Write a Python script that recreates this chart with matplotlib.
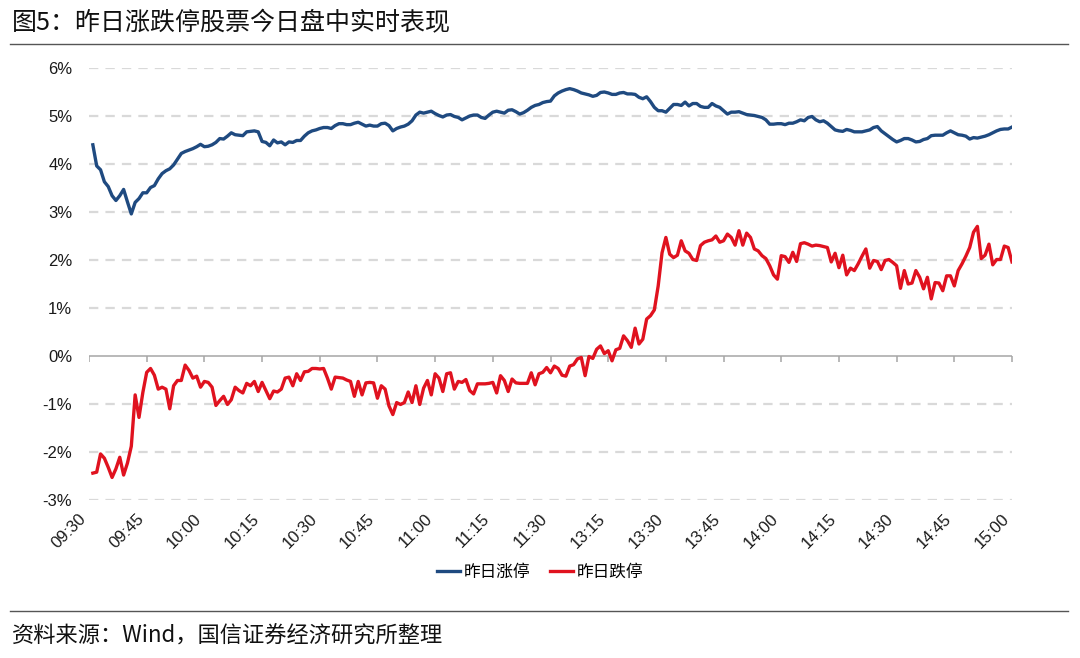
import numpy as np
import matplotlib
matplotlib.use("Agg")
import matplotlib.pyplot as plt
from matplotlib.lines import Line2D

plt.rcParams["font.family"] = ["Liberation Sans", "Noto Sans CJK SC", "DejaVu Sans"]

TITLE = "图5：昨日涨跌停股票今日盘中实时表现"
SOURCE = "资料来源：Wind，国信证券经济研究所整理"
SERIES_NAMES = ["昨日涨停", "昨日跌停"]

# trading-minute index: 0 = 09:30, 120 = 11:30/13:00, 240 = 15:00
tick_labels = ["09:30", "09:45", "10:00", "10:15", "10:30", "10:45", "11:00", "11:15",
               "11:30", "13:15", "13:30", "13:45", "14:00", "14:15", "14:30", "14:45", "15:00"]
y_ticks = [6, 5, 4, 3, 2, 1, 0, -1, -2, -3]

# 昨日涨停 (%), one value per trading minute 09:31 .. 15:00
limit_up = [
    4.40, 3.96, 3.88, 3.63, 3.53, 3.34, 3.24, 3.34, 3.47, 3.21,
    2.96, 3.20, 3.28, 3.40, 3.40, 3.51, 3.55, 3.69, 3.80, 3.86,
    3.90, 3.98, 4.10, 4.22, 4.26, 4.29, 4.32, 4.36, 4.41, 4.36,
    4.37, 4.40, 4.45, 4.53, 4.52, 4.58, 4.65, 4.61, 4.60, 4.59,
    4.67, 4.68, 4.69, 4.67, 4.47, 4.45, 4.38, 4.50, 4.44, 4.46,
    4.40, 4.46, 4.45, 4.49, 4.49, 4.58, 4.65, 4.69, 4.71, 4.74,
    4.76, 4.76, 4.74, 4.80, 4.84, 4.84, 4.82, 4.82, 4.85, 4.87,
    4.83, 4.79, 4.81, 4.79, 4.79, 4.84, 4.85, 4.80, 4.69, 4.74,
    4.77, 4.79, 4.83, 4.90, 5.02, 5.08, 5.06, 5.08, 5.10, 5.05,
    5.01, 4.98, 5.02, 5.03, 4.99, 4.97, 4.92, 4.96, 5.00, 5.02,
    5.02, 4.97, 4.95, 5.02, 5.08, 5.10, 5.08, 5.06, 5.12, 5.13,
    5.09, 5.04, 5.07, 5.12, 5.18, 5.22, 5.24, 5.28, 5.30, 5.31,
    5.42, 5.48, 5.52, 5.55, 5.57, 5.55, 5.52, 5.48, 5.46, 5.44,
    5.41, 5.43, 5.49, 5.50, 5.48, 5.45, 5.45, 5.48, 5.49, 5.46,
    5.46, 5.45, 5.39, 5.36, 5.40, 5.30, 5.18, 5.11, 5.11, 5.08,
    5.16, 5.24, 5.24, 5.22, 5.29, 5.21, 5.26, 5.26, 5.20, 5.18,
    5.18, 5.26, 5.21, 5.18, 5.11, 5.04, 5.08, 5.08, 5.09, 5.06,
    5.03, 5.02, 5.01, 4.99, 4.97, 4.92, 4.83, 4.83, 4.84, 4.84,
    4.82, 4.85, 4.85, 4.88, 4.92, 4.90, 4.97, 4.99, 4.92, 4.88,
    4.90, 4.85, 4.78, 4.71, 4.69, 4.68, 4.72, 4.70, 4.67, 4.67,
    4.67, 4.69, 4.71, 4.76, 4.78, 4.69, 4.63, 4.57, 4.51, 4.46,
    4.49, 4.53, 4.53, 4.50, 4.46, 4.47, 4.51, 4.53, 4.59, 4.60,
    4.60, 4.60, 4.65, 4.69, 4.65, 4.61, 4.60, 4.58, 4.52, 4.55,
    4.54, 4.56, 4.58, 4.61, 4.65, 4.69, 4.72, 4.73, 4.73, 4.77,
]

# 昨日跌停 (%), one value per trading minute 09:31 .. 15:00
limit_down = [
    -2.44, -2.42, -2.04, -2.13, -2.32, -2.53, -2.35, -2.11, -2.48, -2.23,
    -1.88, -0.81, -1.28, -0.76, -0.34, -0.26, -0.40, -0.69, -0.65, -0.69,
    -1.10, -0.62, -0.51, -0.51, -0.19, -0.30, -0.46, -0.42, -0.65, -0.53,
    -0.55, -0.65, -1.03, -0.93, -0.84, -1.01, -0.91, -0.65, -0.72, -0.77,
    -0.57, -0.62, -0.53, -0.74, -0.55, -0.72, -0.89, -0.73, -0.75, -0.69,
    -0.46, -0.44, -0.62, -0.37, -0.51, -0.33, -0.32, -0.26, -0.26, -0.27,
    -0.26, -0.46, -0.69, -0.44, -0.45, -0.46, -0.50, -0.53, -0.84, -0.53,
    -0.81, -0.56, -0.55, -0.56, -0.88, -0.62, -0.69, -1.04, -1.22, -0.97,
    -1.01, -0.97, -0.75, -0.97, -0.62, -1.01, -0.67, -0.51, -0.81, -0.37,
    -0.46, -0.74, -0.37, -0.35, -0.69, -0.53, -0.55, -0.49, -0.72, -0.79,
    -0.58, -0.58, -0.58, -0.57, -0.55, -0.77, -0.41, -0.51, -0.74, -0.48,
    -0.56, -0.57, -0.57, -0.57, -0.35, -0.60, -0.37, -0.34, -0.24, -0.35,
    -0.21, -0.26, -0.40, -0.42, -0.21, -0.18, -0.06, -0.03, -0.41, -0.01,
    -0.05, 0.14, 0.21, 0.05, 0.11, -0.10, 0.13, 0.16, 0.42, 0.32,
    0.18, 0.58, 0.25, 0.35, 0.77, 0.84, 0.96, 1.46, 2.15, 2.47,
    2.12, 2.05, 2.10, 2.40, 2.19, 2.14, 2.01, 1.99, 2.30, 2.37,
    2.40, 2.42, 2.50, 2.37, 2.40, 2.54, 2.47, 2.31, 2.61, 2.31,
    2.56, 2.47, 2.23, 2.19, 2.09, 2.03, 1.88, 1.69, 1.60, 2.09,
    2.07, 1.95, 2.16, 1.97, 2.34, 2.36, 2.33, 2.29, 2.31, 2.30,
    2.28, 2.26, 1.96, 2.14, 1.84, 2.10, 1.69, 1.83, 1.78, 1.92,
    2.08, 2.23, 1.83, 1.99, 1.97, 1.80, 1.99, 2.01, 1.95, 1.88,
    1.41, 1.78, 1.50, 1.52, 1.78, 1.64, 1.40, 1.64, 1.19, 1.53,
    1.52, 1.36, 1.67, 1.67, 1.46, 1.78, 1.92, 2.08, 2.26, 2.58,
    2.70, 2.03, 2.10, 2.33, 1.90, 2.01, 2.01, 2.29, 2.26, 1.96,
]

BLUE = "#1F4A80"
RED = "#E0121F"
GRID = "#D9D9D9"
CJK = ["Noto Sans CJK SC", "DejaVu Sans"]

minutes = np.arange(1, len(limit_up) + 1)
tick_pos = np.arange(len(tick_labels)) * 15

fig = plt.figure(figsize=(10.8, 6.58), dpi=100)
ax = fig.add_axes([89 / 1080, 1 - 500 / 658, 923 / 1080, 432 / 658])

ax.set_xlim(0, 240)
ax.set_ylim(-3, 6)

# dashed gridlines (zero line drawn solid as the axis)
for v in y_ticks:
    if v != 0:
        ax.axhline(v, color=GRID, lw=1.6, ls=(0, (4.2, 3.2)), zorder=0)
ax.axhline(0, color="#A6A6A6", lw=1.1, zorder=1)
ax.plot(tick_pos, np.zeros(len(tick_pos)), ls="none", marker=3, ms=4.5,
        mew=1.1, color="#A6A6A6", zorder=1)

ax.plot(minutes, limit_up, color=BLUE, lw=2.4, zorder=3, label=SERIES_NAMES[0])
ax.plot(minutes, limit_down, color=RED, lw=2.4, zorder=3, label=SERIES_NAMES[1])

for s in ax.spines.values():
    s.set_visible(False)
ax.set_yticks(y_ticks)
ax.set_yticklabels([f"{v}%" for v in y_ticks])
ax.set_xticks(tick_pos)
ax.set_xticklabels(tick_labels, rotation=45, ha="right", va="top")
ax.tick_params(axis="both", length=0, labelsize=12, colors="#1A1A1A")
ax.tick_params(axis="y", pad=12)
ax.tick_params(axis="x", pad=8)

handles = [Line2D([], [], color=BLUE, lw=2.4), Line2D([], [], color=RED, lw=2.4)]
fig.legend(handles, SERIES_NAMES, loc="center", bbox_to_anchor=(0.5, 1 - 572 / 658),
           ncol=2, frameon=False, prop={"family": CJK, "size": 12},
           handlelength=1.4, handletextpad=0.2, columnspacing=1.2)

fig.text(12 / 1080, 1 - 23 / 658, TITLE, family=CJK, fontsize=18, va="center",
         ha="left", color="#111111")
fig.text(12 / 1080, 1 - 636 / 658, SOURCE, family=CJK, fontsize=16, va="center",
         ha="left", color="#111111")
fig.add_artist(Line2D([10 / 1080, 1068 / 1080], [1 - 44 / 658] * 2, color="#555555", lw=1.0))
fig.add_artist(Line2D([10 / 1080, 1068 / 1080], [1 - 611 / 658] * 2, color="#555555", lw=1.0))

fig.savefig("out.png", dpi=100)
